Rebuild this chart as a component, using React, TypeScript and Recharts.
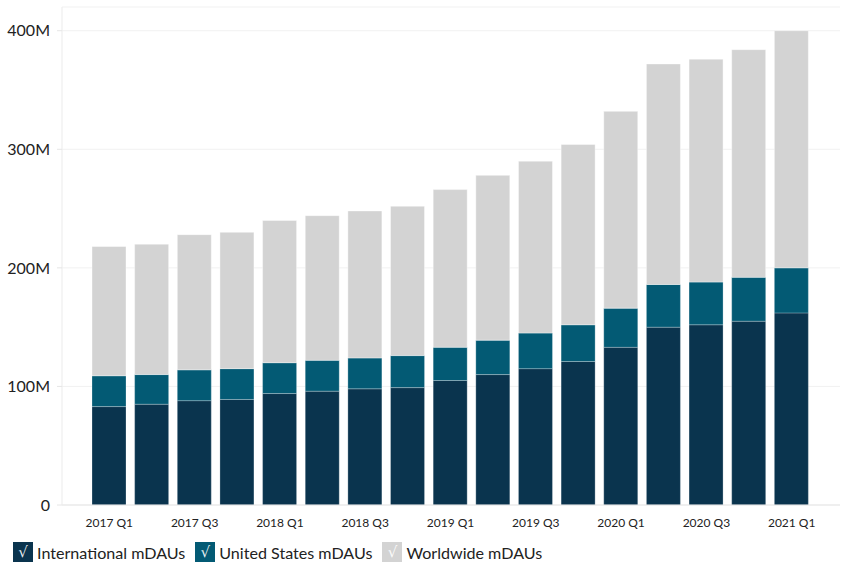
import React from "react";
import { BarChart, Bar, XAxis, YAxis, CartesianGrid } from "recharts";

// quarterly mDAUs, in millions
const quarters = [
  "2017 Q1", "2017 Q2", "2017 Q3", "2017 Q4",
  "2018 Q1", "2018 Q2", "2018 Q3", "2018 Q4",
  "2019 Q1", "2019 Q2", "2019 Q3", "2019 Q4",
  "2020 Q1", "2020 Q2", "2020 Q3", "2020 Q4",
  "2021 Q1",
];
const international = [83, 85, 88, 89, 94, 96, 98, 99, 105, 110, 115, 121, 133, 150, 152, 155, 162];
const unitedStates = [26, 25, 26, 26, 26, 26, 26, 27, 28, 29, 30, 31, 33, 36, 36, 37, 38];
const worldwide = [109, 110, 114, 115, 120, 122, 124, 126, 133, 139, 145, 152, 166, 186, 188, 192, 200];
const yTicks = [0, 100, 200, 300, 400];

const data = quarters.map((q, i) => ({
  q,
  intl: international[i],
  us: unitedStates[i],
  ww: worldwide[i],
}));

const NAVY = "#0a344e";
const TEAL = "#035a74";
const GRAY = "#d3d3d3";
const FRAME = "#ebebeb";

const legendItems = [
  { label: "International mDAUs", color: NAVY },
  { label: "United States mDAUs", color: TEAL },
  { label: "Worldwide mDAUs", color: GRAY },
];

export default function App() {
  return (
    <div style={{ position: "absolute", left: 0, top: 0, width: 849, height: 581, fontFamily: "Lato, sans-serif" }}>
      <BarChart
        width={849}
        height={535}
        data={data}
        margin={{ top: 7, right: 9, left: 0, bottom: 0 }}
        barSize={34}
      >
        <CartesianGrid vertical={false} stroke="#f1f1f1" />
        <XAxis
          dataKey="q"
          interval={1}
          height={30}
          padding={{ left: 26, right: 27 }}
          tickLine={false}
          tickSize={6}
          tickMargin={7}
          axisLine={{ stroke: "#e6e6e6" }}
          tick={{ fontSize: 12, fill: "#222", fontFamily: "Lato" }}
        />
        <XAxis xAxisId="top" dataKey="q" orientation="top" height={0} tick={false} tickLine={false} axisLine={{ stroke: FRAME }} />
        <YAxis
          width={62}
          domain={[0, 420]}
          ticks={yTicks}
          tickSize={5}
          tickMargin={7}
          tickLine={{ stroke: "#e6e6e6" }}
          axisLine={{ stroke: FRAME }}
          tick={{ fontSize: 16, fill: "#222", fontFamily: "Lato" }}
          tickFormatter={(v: number) => (v === 0 ? "0" : `${v}M`)}
        />
        <YAxis yAxisId="right" orientation="right" width={0} domain={[0, 420]} tick={false} tickLine={false} axisLine={{ stroke: FRAME }} />
        <Bar dataKey="intl" stackId="a" fill={NAVY} stroke="rgba(255,255,255,0.25)" isAnimationActive={false} />
        <Bar dataKey="us" stackId="a" fill={TEAL} stroke="rgba(255,255,255,0.25)" isAnimationActive={false} />
        <Bar dataKey="ww" stackId="a" fill={GRAY} stroke="rgba(255,255,255,0.4)" isAnimationActive={false} />
      </BarChart>
      <div style={{ position: "absolute", left: 13, top: 542, display: "flex", alignItems: "center" }}>
        {legendItems.map((it) => (
          <div key={it.label} style={{ display: "flex", alignItems: "center", marginRight: 10 }}>
            <span
              style={{
                width: 20,
                height: 20,
                background: it.color,
                color: "rgba(255,255,255,0.9)",
                fontSize: 15,
                lineHeight: "20px",
                textAlign: "center",
                fontFamily: "DejaVu Sans",
              }}
            >
              √
            </span>
            <span style={{ marginLeft: 4, fontSize: 16.1, color: "#222", fontFamily: "Lato" }}>{it.label}</span>
          </div>
        ))}
      </div>
    </div>
  );
}
